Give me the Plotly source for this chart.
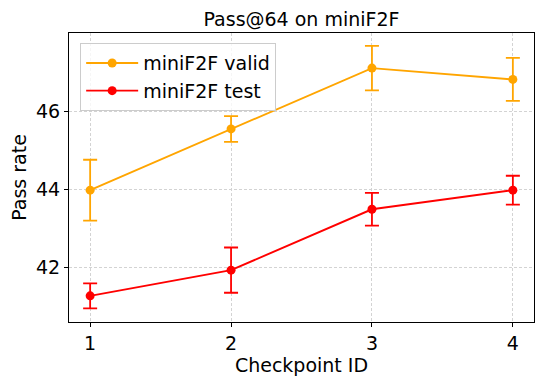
import plotly.graph_objects as go

checkpoints = [1, 2, 3, 4]

valid_mean = [43.97, 45.54, 47.10, 46.81]
valid_err = [0.78, 0.33, 0.57, 0.55]

test_mean = [41.26, 41.92, 43.48, 43.97]
test_err = [0.32, 0.58, 0.42, 0.37]

font_family = "DejaVu Sans"
font_size = 19

fig = go.Figure()

fig.add_trace(go.Scatter(
    x=checkpoints,
    y=valid_mean,
    error_y=dict(type="data", array=valid_err, color="orange", thickness=1.8, width=7),
    mode="lines+markers",
    line=dict(color="orange", width=1.9),
    marker=dict(color="orange", size=9),
    name="miniF2F valid",
    legendgroup="valid"
))

fig.add_trace(go.Scatter(
    x=checkpoints,
    y=test_mean,
    error_y=dict(type="data", array=test_err, color="red", thickness=1.8, width=7),
    mode="lines+markers",
    line=dict(color="red", width=1.9),
    marker=dict(color="red", size=9),
    name="miniF2F test",
    legendgroup="test"
))

axis_style = dict(
    showline=True,
    linecolor="black",
    linewidth=1,
    mirror=True,
    ticks="outside",
    ticklen=4,
    tickcolor="black",
    showgrid=True,
    gridcolor="#d3d3d3",
    gridwidth=0.7,
    griddash="3px,2px",
    zeroline=False,
    automargin=False,
    tickfont=dict(size=font_size, color="black", family=font_family),
)

fig.update_xaxes(
    range=[0.85, 4.15],
    tickvals=checkpoints,
    title=dict(text="Checkpoint ID", font=dict(size=font_size, color="black", family=font_family), standoff=4),
    **axis_style
)

fig.update_yaxes(
    range=[40.59, 48.0],
    tickvals=[42, 44, 46],
    title=dict(text="Pass rate", font=dict(size=font_size, color="black", family=font_family), standoff=11),
    **axis_style
)

# the page body adds an 8px offset, so the figure is drawn 8px smaller
fig.update_layout(
    width=536,
    height=377,
    margin=dict(l=61, r=10, t=25, b=63),
    paper_bgcolor="white",
    plot_bgcolor="white",
    font=dict(family=font_family, color="black"),
    title=dict(
        text="Pass@64 on miniF2F",
        font=dict(size=font_size, color="black", family=font_family),
        x=0.5,
        xref="paper",
        xanchor="center",
        y=0.971,
        yanchor="middle"
    ),
    legend=dict(
        x=0.024,
        y=0.965,
        xanchor="left",
        yanchor="top",
        bgcolor="rgba(255,255,255,0.8)",
        bordercolor="#cccccc",
        borderwidth=1,
        font=dict(size=font_size, color="black", family=font_family),
        tracegroupgap=0,
        traceorder="grouped",
        itemwidth=52
    ),
    showlegend=True
)

fig.write_html("out.html")
